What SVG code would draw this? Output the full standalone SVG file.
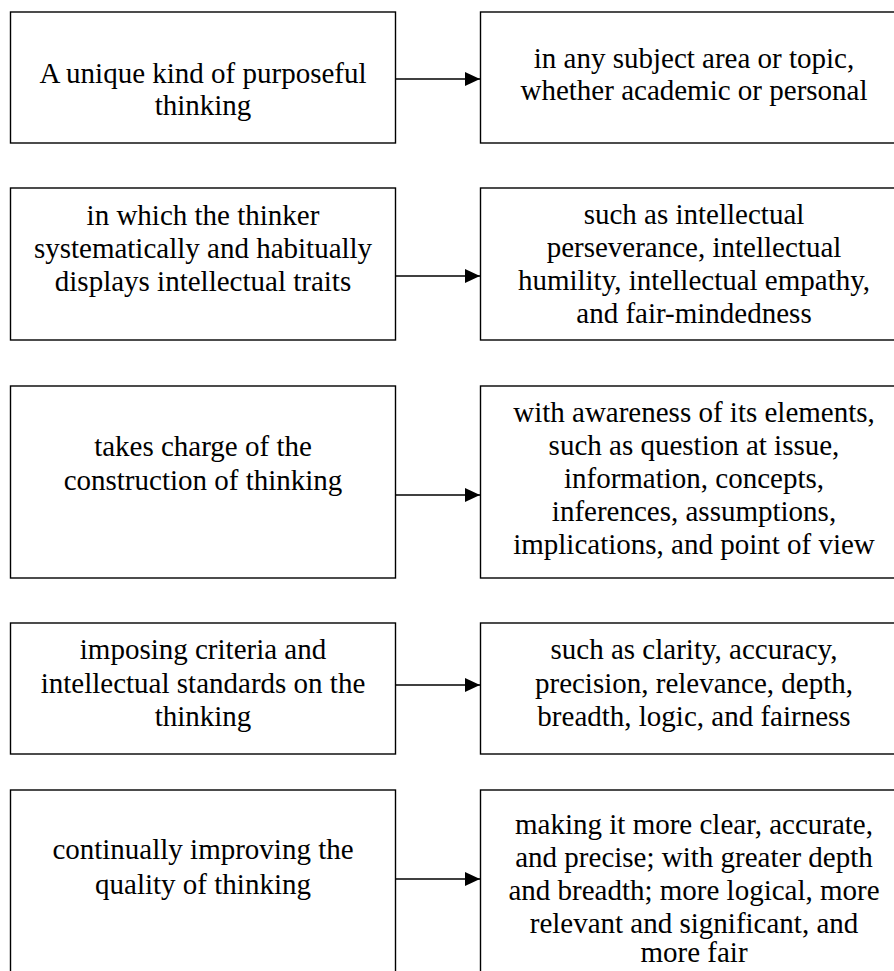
<svg xmlns="http://www.w3.org/2000/svg" width="894" height="971" viewBox="0 0 894 971">
  <style>
    .box { fill: #ffffff; stroke: #000000; stroke-width: 1.4; }
    .lbl { font-family: "Liberation Serif", "Times New Roman", serif; font-size: 29px; fill: #000000; text-anchor: middle; }
    .link { stroke: #000000; stroke-width: 1.4; fill: none; marker-end: url(#head); }
  </style>
  <defs>
    <marker id="head" markerUnits="userSpaceOnUse" markerWidth="16" markerHeight="14" refX="15" refY="7" orient="auto">
      <path d="M0,0 L15,7 L0,14 Z" fill="#000000"/>
    </marker>
  </defs>
  <rect width="894" height="971" fill="#ffffff"/>

  <!-- row 1 -->
  <g id="n-purposeful">
    <rect class="box" x="10.5" y="12" width="385" height="131"/>
    <text class="lbl" x="203" y="83">A unique kind of purposeful</text>
    <text class="lbl" x="203" y="115">thinking</text>
  </g>
  <g id="n-subject">
    <rect class="box" x="480.5" y="12" width="432" height="131"/>
    <text class="lbl" x="694" y="68">in any subject area or topic,</text>
    <text class="lbl" x="694" y="100">whether academic or personal</text>
  </g>

  <!-- row 2 -->
  <g id="n-traits">
    <rect class="box" x="10.5" y="188" width="385" height="152"/>
    <text class="lbl" x="203" y="225">in which the thinker</text>
    <text class="lbl" x="203" y="258">systematically and habitually</text>
    <text class="lbl" x="203" y="291">displays intellectual traits</text>
  </g>
  <g id="n-perseverance">
    <rect class="box" x="480.5" y="188" width="432" height="152"/>
    <text class="lbl" x="694" y="224">such as intellectual</text>
    <text class="lbl" x="694" y="257">perseverance, intellectual</text>
    <text class="lbl" x="694" y="290">humility, intellectual empathy,</text>
    <text class="lbl" x="694" y="323">and fair-mindedness</text>
  </g>

  <!-- row 3 -->
  <g id="n-construction">
    <rect class="box" x="10.5" y="386" width="385" height="192"/>
    <text class="lbl" x="203" y="456">takes charge of the</text>
    <text class="lbl" x="203" y="490">construction of thinking</text>
  </g>
  <g id="n-elements">
    <rect class="box" x="480.5" y="386" width="432" height="192"/>
    <text class="lbl" x="694" y="422">with awareness of its elements,</text>
    <text class="lbl" x="694" y="455">such as question at issue,</text>
    <text class="lbl" x="694" y="488">information, concepts,</text>
    <text class="lbl" x="694" y="521">inferences, assumptions,</text>
    <text class="lbl" x="694" y="554">implications, and point of view</text>
  </g>

  <!-- row 4 -->
  <g id="n-standards">
    <rect class="box" x="10.5" y="623" width="385" height="131"/>
    <text class="lbl" x="203" y="659">imposing criteria and</text>
    <text class="lbl" x="203" y="693">intellectual standards on the</text>
    <text class="lbl" x="203" y="726">thinking</text>
  </g>
  <g id="n-clarity">
    <rect class="box" x="480.5" y="623" width="432" height="131"/>
    <text class="lbl" x="694" y="659">such as clarity, accuracy,</text>
    <text class="lbl" x="694" y="693">precision, relevance, depth,</text>
    <text class="lbl" x="694" y="726">breadth, logic, and fairness</text>
  </g>

  <!-- row 5 -->
  <g id="n-improving">
    <rect class="box" x="10.5" y="790" width="385" height="190"/>
    <text class="lbl" x="203" y="859">continually improving the</text>
    <text class="lbl" x="203" y="894">quality of thinking</text>
  </g>
  <g id="n-quality">
    <rect class="box" x="480.5" y="790" width="432" height="190"/>
    <text class="lbl" x="694" y="834">making it more clear, accurate,</text>
    <text class="lbl" x="694" y="867">and precise; with greater depth</text>
    <text class="lbl" x="694" y="900">and breadth; more logical, more</text>
    <text class="lbl" x="694" y="933">relevant and significant, and</text>
    <text class="lbl" x="694" y="962">more fair</text>
  </g>

  <!-- connectors -->
  <g id="connectors">
    <line class="link" x1="395.5" y1="79" x2="480" y2="79"/>
    <line class="link" x1="395.5" y1="276" x2="480" y2="276"/>
    <line class="link" x1="395.5" y1="495" x2="480" y2="495"/>
    <line class="link" x1="395.5" y1="685" x2="480" y2="685"/>
    <line class="link" x1="395.5" y1="879" x2="480" y2="879"/>
  </g>
</svg>
